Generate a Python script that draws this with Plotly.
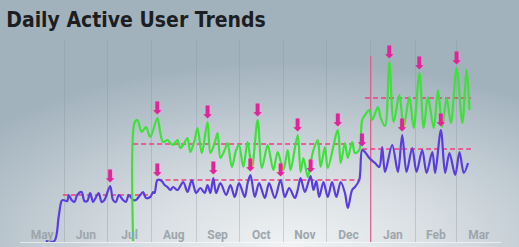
import base64
import plotly.graph_objects as go

# ---------------- data (DAU, thousands) ----------------
blue_dates = [
    "2023-05-19", "2023-05-25", "2023-05-28", "2023-05-30", "2023-05-31",
    "2023-06-03", "2023-06-04", "2023-06-06", "2023-06-08", "2023-06-10",
    "2023-06-13", "2023-06-15", "2023-06-17", "2023-06-19", "2023-06-21",
    "2023-06-22", "2023-06-25", "2023-06-27", "2023-06-29", "2023-07-03",
    "2023-07-05", "2023-07-07", "2023-07-09", "2023-07-12", "2023-07-14",
    "2023-07-16", "2023-07-19", "2023-07-21", "2023-07-24", "2023-07-26",
    "2023-07-28", "2023-07-31", "2023-08-02", "2023-08-03", "2023-08-05",
    "2023-08-08", "2023-08-10", "2023-08-12", "2023-08-14", "2023-08-16",
    "2023-08-19", "2023-08-23", "2023-08-26", "2023-08-29", "2023-09-01",
    "2023-09-04", "2023-09-07", "2023-09-09", "2023-09-11", "2023-09-13",
    "2023-09-15", "2023-09-18", "2023-09-22", "2023-09-25", "2023-09-28",
    "2023-10-01", "2023-10-05", "2023-10-07", "2023-10-09", "2023-10-12",
    "2023-10-15", "2023-10-19", "2023-10-22", "2023-10-26", "2023-10-30",
    "2023-11-02", "2023-11-05", "2023-11-09", "2023-11-11", "2023-11-13",
    "2023-11-16", "2023-11-20", "2023-11-22", "2023-11-24", "2023-11-26",
    "2023-11-29", "2023-12-02", "2023-12-05", "2023-12-08", "2023-12-11",
    "2023-12-14", "2023-12-16", "2023-12-19", "2023-12-21", "2023-12-24",
    "2023-12-26", "2023-12-28", "2023-12-31", "2024-01-04", "2024-01-07",
    "2024-01-09", "2024-01-11", "2024-01-16", "2024-01-20", "2024-01-23",
    "2024-01-26", "2024-01-30", "2024-02-02", "2024-02-06", "2024-02-09",
    "2024-02-13", "2024-02-15", "2024-02-19", "2024-02-22", "2024-02-25",
    "2024-02-29", "2024-03-03", "2024-03-06", "2024-03-09",
]
blue_values = [
    0.5, 0.5, 12.5, 20.5, 21,
    20.5, 23.5, 21, 20, 23.5,
    25, 20.5, 20.5, 24.5, 20,
    21, 24.5, 20, 21, 28,
    21, 20, 23.5, 21, 20,
    23.5, 21, 21, 23.5, 25,
    22, 22.5, 25, 24.5, 31,
    30.5, 28.5, 27.5, 26, 27.5,
    26, 30, 25, 31, 24.5,
    27, 24.5, 28.5, 24.5, 32,
    24.5, 29.5, 23.5, 28.5, 22.5,
    29.5, 22.5, 29.5, 33.5, 22.5,
    29.5, 22, 29.5, 22, 31,
    22.5, 27, 22, 26, 32,
    25, 33, 26, 30.5, 22.5,
    30, 22.5, 30, 22.5, 30,
    24.5, 17, 26, 27.5, 31,
    46, 45, 42, 39.5, 37.5,
    47.5, 35, 48.5, 35, 53.5,
    35, 47, 35, 46, 34.5,
    45, 34.5, 56, 34.5, 44.5,
    33.5, 45, 34.5, 39.5,
]

green_dates = [
    "2023-07-19", "2023-07-20", "2023-07-22", "2023-07-25", "2023-07-28",
    "2023-07-31", "2023-08-05", "2023-08-07", "2023-08-09", "2023-08-12",
    "2023-08-14", "2023-08-16", "2023-08-19", "2023-08-21", "2023-08-23",
    "2023-08-26", "2023-08-28", "2023-08-31", "2023-09-02", "2023-09-05",
    "2023-09-09", "2023-09-11", "2023-09-14", "2023-09-16", "2023-09-18",
    "2023-09-21", "2023-09-23", "2023-09-26", "2023-09-29", "2023-10-01",
    "2023-10-04", "2023-10-07", "2023-10-10", "2023-10-14", "2023-10-17",
    "2023-10-21", "2023-10-25", "2023-10-28", "2023-11-01", "2023-11-04",
    "2023-11-06", "2023-11-11", "2023-11-13", "2023-11-15", "2023-11-18",
    "2023-11-20", "2023-11-22", "2023-11-25", "2023-11-27", "2023-11-30",
    "2023-12-02", "2023-12-09", "2023-12-11", "2023-12-14", "2023-12-16",
    "2023-12-19", "2023-12-21", "2023-12-24", "2023-12-26", "2023-12-28",
    "2023-12-31", "2024-01-02", "2024-01-06", "2024-01-08", "2024-01-11",
    "2024-01-14", "2024-01-17", "2024-01-21", "2024-01-24", "2024-01-28",
    "2024-01-31", "2024-02-04", "2024-02-07", "2024-02-10", "2024-02-14",
    "2024-02-17", "2024-02-20", "2024-02-23", "2024-02-26", "2024-03-01",
    "2024-03-05", "2024-03-08", "2024-03-10",
]
green_values = [
    0.5, 59.5, 61, 55, 57.5,
    52.5, 62, 54.5, 50, 51,
    49.5, 48.5, 51, 47, 48.5,
    52, 45, 51, 57, 44.5,
    60, 44.5, 49.5, 54.5, 42,
    46, 49.5, 37.5, 46, 48.5,
    37.5, 50, 37, 61, 37,
    48.5, 36, 45, 36, 46,
    36, 53.5, 35, 42, 32.5,
    39.5, 46, 51, 37.5, 47.5,
    37, 56, 39.5, 49.5, 42,
    50, 44.5, 46, 61, 63.5,
    66, 61, 67.5, 62, 58,
    90, 60, 73.5, 57.5, 72.5,
    57, 84.5, 57, 72.5, 57,
    76, 57.5, 72, 59.5, 87,
    59.5, 86, 66,
]

blue_spike_dates = ["2023-07-03", "2023-08-05", "2023-09-13", "2023-10-09",
                    "2023-10-30", "2023-11-20", "2023-12-26", "2024-01-23",
                    "2024-02-19"]
green_spike_dates = ["2023-08-05", "2023-09-09", "2023-10-14", "2023-11-11",
                     "2023-12-09", "2024-01-14", "2024-02-04", "2024-03-01"]

blue_level_start = ["2023-05-31", "2023-08-05", "2023-12-26"]
blue_level_end = ["2023-07-31", "2023-12-24", "2024-03-11"]
blue_level_value = [23.5, 31, 46.5]
green_level_start = ["2023-07-19", "2023-12-28"]
green_level_end = ["2023-12-21", "2024-03-11"]
green_level_value = [49, 72]

year_marker_date = "2024-01-01"
year_marker_top = 93

x_range = ["2023-05-01", "2024-04-01"]
y_range = [0, 101]

# ---------------- styling ----------------
W, H = 519, 247
ML, MR, MT, MB = 20, 18, 40, 5
PW, PH = W - ML - MR, H - MT - MB

BLUE = "#5b3ddb"
GREEN = "#3fe03a"
PINK = "#ec3f80"
MAGENTA = "#e2239c"

svg = (
    "<svg xmlns='http://www.w3.org/2000/svg' width='519' height='247' preserveAspectRatio='none'>"
    "<defs><radialGradient id='g' cx='0.56' cy='1.0' r='0.75'>"
    "<stop offset='0' stop-color='#f1f3f4'/>"
    "<stop offset='0.45' stop-color='#d3dadf'/>"
    "<stop offset='1' stop-color='#a2b2bd'/>"
    "</radialGradient></defs>"
    "<rect width='519' height='247' fill='url(#g)'/></svg>"
)
bg_src = "data:image/svg+xml;base64," + base64.b64encode(svg.encode()).decode()

fig = go.Figure()


def level_trace(starts, ends, values):
    xs, ys = [], []
    for s, e, v in zip(starts, ends, values):
        xs += [s, e, None]
        ys += [v, v, None]
    return go.Scatter(x=xs, y=ys, mode="lines",
                      line=dict(color=PINK, width=1.6, dash="5px,3px"),
                      hoverinfo="skip")


fig.add_trace(go.Scatter(x=[year_marker_date, year_marker_date],
                         y=[y_range[0], year_marker_top], mode="lines",
                         line=dict(color="#e2588a", width=1.2), hoverinfo="skip"))

fig.add_trace(level_trace(blue_level_start, blue_level_end, blue_level_value))
fig.add_trace(level_trace(green_level_start, green_level_end, green_level_value))

fig.add_trace(go.Scatter(x=blue_dates, y=blue_values, mode="lines",
                         line=dict(color=BLUE, width=2.2, shape="spline", smoothing=0.9)))
fig.add_trace(go.Scatter(x=green_dates, y=green_values, mode="lines",
                         line=dict(color=GREEN, width=2.2, shape="spline", smoothing=0.9)))

blue_lookup = dict(zip(blue_dates, blue_values))
green_lookup = dict(zip(green_dates, green_values))
spike_x = blue_spike_dates + green_spike_dates
spike_y = [blue_lookup[d] for d in blue_spike_dates] + [green_lookup[d] for d in green_spike_dates]
fig.add_trace(go.Scatter(x=spike_x, y=spike_y, mode="text", text=["⬇"] * len(spike_x),
                         textposition="top center",
                         textfont=dict(family="DejaVu Sans", size=17, color=MAGENTA),
                         cliponaxis=False, hoverinfo="skip"))

fig.update_layout(
    width=W, height=H,
    margin=dict(l=ML, r=MR, t=MT, b=MB),
    paper_bgcolor="#b4bfc7",
    plot_bgcolor="rgba(0,0,0,0)",
    showlegend=False,
    hovermode=False,
    title=dict(text="<b>Daily Active User Trends</b>", x=0.012, xanchor="left",
               xref="container", y=1 - 20 / H, yanchor="middle",
               font=dict(family="DejaVu Sans Condensed", size=21, color="#1d1e21")),
    images=[dict(source=bg_src, xref="paper", yref="paper", x=-ML / PW, y=1 + MT / PH,
                 sizex=W / PW, sizey=H / PH, xanchor="left", yanchor="top",
                 sizing="stretch", layer="below")],
    xaxis=dict(type="date", range=x_range, dtick="M1", tickformat="%b",
               ticklabelmode="period", ticklabelposition="inside",
               ticks="", showgrid=True, gridcolor="rgba(140,150,158,0.35)", gridwidth=1,
               showline=True, linecolor="rgba(255,255,255,0.55)", linewidth=1,
               zeroline=False,
               tickfont=dict(family="Roboto", size=12, color="#9ea6ad", weight=700)),
    yaxis=dict(range=y_range, visible=False, showgrid=False, zeroline=False),
)

fig.write_html("out.html")
